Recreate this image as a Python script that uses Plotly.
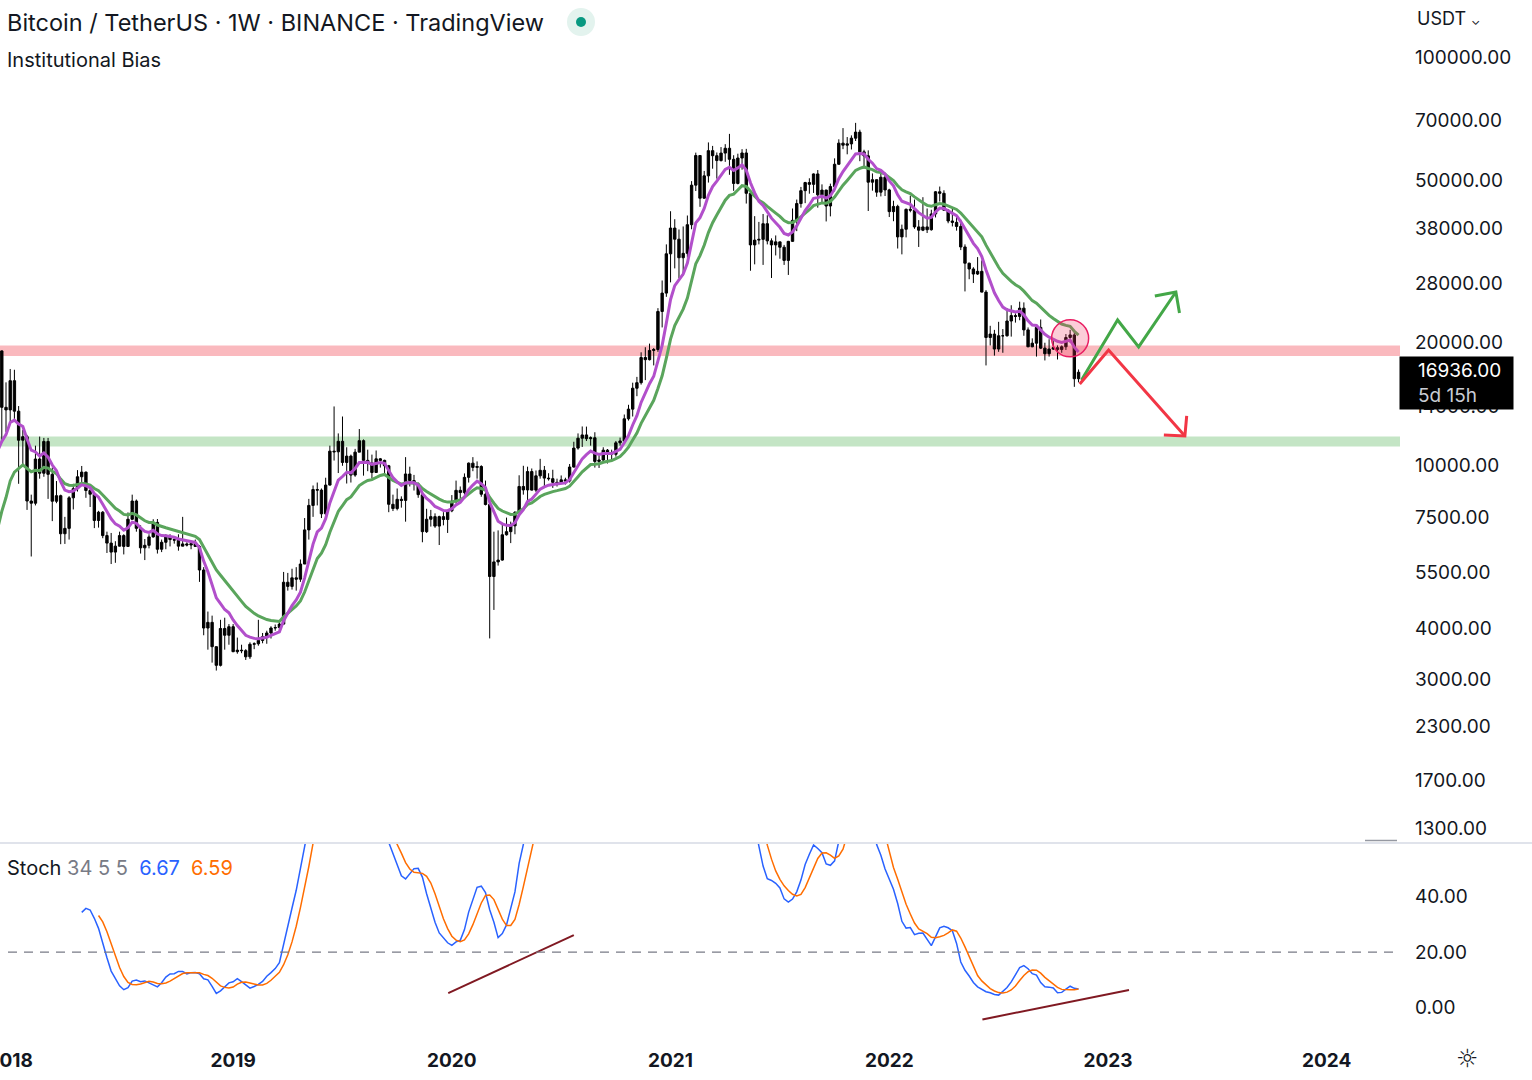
import math
import pandas as pd
import plotly.graph_objects as go

# Weekly BINANCE BTCUSDT candles, one entry per week starting 2017-08-14 (Mondays)
FIRST_WEEK = "2017-08-14"
FIRST_OPEN = 4261

week_high = [
    # 2017
    4485, 4453, 4939, 4788, 4394, 4123, 4406, 4650, 5850, 6118, 6400, 7590, 7776, 8100, 9800, 11300,
    17200, 19798, 19150, 16000,
    # 2018
    17252, 17176, 14000, 12244, 11900, 8500, 11200, 11788, 11700, 11700, 9900, 9177, 8500,
    7500, 8430, 9035, 9760, 9990, 9680, 8880, 8560, 7760, 7750, 6900, 6850, 6540,
    6900, 6800, 7690, 8500, 8270, 7150, 6620, 6800, 7400, 7410, 6600, 6800, 6800,
    6680, 6800, 7500, 6500, 6500, 6600, 6400, 5650, 4400, 4300, 3620, 4200, 4250, 4100,
    # 2019
    4100, 3800, 3650, 3560, 3700, 3700, 4200, 3900, 3950, 4050, 4090, 4150,
    5500, 5470, 5600, 5650, 5900, 7450, 8300, 8950, 9100, 8800, 9350, 11200, 13970,
    12000, 13200, 11100, 10650, 11000, 12300, 11600, 10950, 10650,
    10900, 10450, 10350, 10050, 8500, 8800, 8420, 10500, 9950,
    9500, 9100, 8500, 7850, 7800, 7650, 7550, 7700, 7800,
    # 2020
    8480, 9200, 8900, 9580, 10190, 10500, 10250, 10030, 9200, 8150, 6900, 6950, 7200,
    7470, 7300, 7750, 9480, 10000, 9950, 9850, 9740, 10400, 9990, 9590, 9780, 9300,
    9470, 9350, 10100, 11450, 12000, 12480, 12470, 11800, 12080, 10600, 11100, 10990, 10950,
    11500, 11720, 13350, 14100, 15970, 16500, 18950, 19500, 19900, 19420, 24300, 28400, 34800,
    # 2021
    41950, 40100, 37850, 38500, 40950, 49700, 58350, 57500, 52640, 61800, 60600, 58400, 60200,
    61200, 64850, 57500, 58000, 59500, 59600, 46600, 40800, 39500, 41300, 41000, 36000, 36600,
    35300, 34700, 35500, 42600, 44800, 48100, 49500, 50500, 51900, 52900, 48800, 47350, 49000,
    56500, 62900, 67000, 63700, 64300, 69000, 66400, 59300, 59100, 51900, 50200, 51800, 52100,
    # 2022
    47600, 44500, 43500, 38900, 42600, 45800, 44800, 39900, 45400, 42600, 42300, 47000, 48200,
    47200, 42400, 42900, 40800, 40000, 34800, 31400, 30600, 32400, 31800, 26900, 22000, 21500,
    22500, 21600, 24300, 24700, 23600, 25200, 25100, 21800, 20500, 21900, 22800, 20000, 20400,
    20500, 19700, 19700, 21000, 21500, 21450, 17200,
]

week_low = [
    # 2017
    3850, 3900, 4124, 3850, 2817, 3505, 3760, 4200, 4550, 5100, 5370, 6100, 5325, 5800, 7800, 8500,
    10800, 12900, 11400, 12100,
    # 2018
    12750, 12812, 9035, 10000, 7800, 6000, 8000, 9300, 9400, 8300, 7322, 8100, 6430,
    6440, 6600, 7820, 8650, 8970, 8350, 7930, 7040, 7060, 6650, 6120, 5750, 5790,
    6350, 6070, 6330, 7370, 6900, 6100, 5880, 6280, 6670, 6100, 6150, 6250, 6350,
    6450, 6200, 6400, 6350, 6250, 6330, 5200, 3850, 3550, 3300, 3156, 3230, 3550, 3650,
    # 2019
    3500, 3470, 3480, 3350, 3370, 3560, 3630, 3680, 3670, 3780, 3950, 3930,
    4090, 4950, 4980, 4950, 5200, 5750, 6600, 7500, 8000, 7450, 7500, 8950, 10300,
    9600, 10000, 9050, 9100, 9400, 10800, 9460, 9700, 9320,
    9620, 9900, 9600, 7700, 7750, 7780, 7900, 7300, 8900,
    8700, 8350, 6500, 6850, 7100, 7050, 6400, 7150, 6850,
    # 2020
    7700, 8080, 8230, 8500, 9100, 9700, 9300, 8400, 8000, 3782, 4440, 5700, 5860,
    6750, 6470, 6800, 7690, 8500, 8100, 8700, 8630, 9300, 8900, 9200, 8830, 8900,
    9050, 9000, 9100, 9900, 10950, 11120, 11500, 11200, 9900, 9880, 10250, 10130, 10370,
    10530, 11200, 11400, 12900, 13200, 14800, 15800, 16200, 18100, 17600, 19000, 21800, 25900,
    # 2021
    28100, 30400, 28800, 29200, 32300, 37900, 47000, 43000, 45000, 49300, 53300, 50400, 55500,
    55400, 51500, 47050, 48800, 53000, 43800, 30000, 31100, 34800, 31000, 34800, 28800, 32700,
    32100, 31000, 29300, 35300, 37500, 42800, 43900, 46300, 46500, 42800, 44000, 39600, 40750,
    46900, 54500, 59500, 57800, 59400, 62300, 55600, 53300, 42000, 47100, 45500, 45600, 45700,
    # 2022
    40600, 39650, 34000, 32900, 36200, 41700, 38000, 34300, 37500, 37100, 37600, 40500, 44300,
    42100, 39200, 38500, 37600, 33700, 26700, 28600, 28000, 29300, 26560, 17600, 19700, 18600,
    19000, 18900, 20700, 20700, 22400, 22700, 20800, 19500, 19500, 18500, 19300, 18100, 18500,
    19200, 18200, 18900, 19200, 20000, 15600, 16000,
]

week_close = [
    # 2017
    4086, 4310, 4590, 4330, 3700, 3790, 4390, 4610, 5680, 5980, 6140, 7370, 5950, 8040, 9400, 11200,
    13540, 19100, 13900, 13700,
    # 2018
    16150, 13600, 11550, 11780, 8200, 8100, 10390, 9590, 11470, 9530, 8190, 8450, 6820,
    7030, 8350, 8790, 9400, 9650, 8700, 8520, 7350, 7700, 6750, 6470, 6150, 6360,
    6750, 6350, 7400, 8200, 7030, 6300, 6390, 6700, 7270, 6250, 6500, 6710, 6600,
    6580, 6360, 6440, 6400, 6450, 6350, 5560, 4010, 4140, 3610, 3250, 4000, 3850, 4040,
    # 2019
    3510, 3540, 3530, 3410, 3660, 3670, 3740, 3820, 3900, 4010, 4020, 4100,
    5190, 5070, 5320, 5280, 5750, 6970, 8000, 8750, 8720, 7630, 8970, 10860, 10820,
    11480, 10190, 10560, 9490, 10800, 11520, 10310, 10150, 9630,
    10400, 10310, 10000, 8050, 7860, 8280, 8230, 9550, 9200,
    9030, 8500, 6900, 7400, 7510, 7120, 7510, 7390, 7760,
    # 2020
    8190, 8710, 8600, 9370, 10150, 9910, 9960, 8520, 8040, 5360, 5820, 5880, 6780,
    6900, 7130, 7690, 8900, 8730, 9680, 8720, 9450, 9750, 9330, 9300, 9110, 9080,
    9240, 9180, 9930, 11050, 11680, 11900, 11650, 11710, 10250, 10330, 10920, 10770, 10670,
    11380, 11500, 13030, 13760, 15480, 15970, 18400, 18180, 19150, 19250, 23850, 26450, 33000,
    # 2021
    38150, 35830, 32280, 33090, 38880, 48580, 57410, 45140, 51200, 59000, 57350, 55800, 58200,
    59800, 56200, 49050, 56600, 58240, 46400, 34700, 35650, 35800, 39100, 35500, 34700, 35300,
    34250, 31800, 35400, 39850, 43800, 47100, 49300, 48800, 51750, 46000, 47250, 43200, 48200,
    54650, 61550, 60850, 61300, 63300, 65500, 58600, 57300, 49400, 50100, 46700, 50800, 47300,
    # 2022
    41850, 43100, 36300, 37900, 42400, 42200, 38400, 37700, 38400, 37800, 41300, 46800, 46400,
    42200, 39700, 39400, 38500, 34300, 31300, 30300, 29450, 29900, 26600, 20600, 21000, 19300,
    20800, 20800, 22600, 23300, 23200, 24300, 21500, 19550, 19950, 21800, 19400, 18800, 19300,
    19450, 19250, 19550, 20600, 20900, 16330, 16936,
]

week_open = [FIRST_OPEN] + week_close[:-1]

# Indicator settings shown in the legend
EMA_FAST, EMA_SLOW = 9, 18
STOCH_LEN, STOCH_K, STOCH_D = 34, 5, 5
stoch_legend_k, stoch_legend_d = "6.67", "6.59"
countdown = "5d 15h"

# Drawn zones / annotations (price levels, dates)
resistance_zone = [18560, 19700]
support_zone = [11150, 11790]
bull_arrow_dates = ["2022-11-19", "2023-01-18", "2023-02-22", "2023-04-25", None,
                    "2023-03-21", "2023-04-25", "2023-05-01"]
bull_arrow_prices = [16220, 22730, 19530, 26610, None, 26020, 26610, 23640]
bear_arrow_dates = ["2022-11-16", "2023-01-03", "2023-05-10", None,
                    "2023-04-05", "2023-05-10", "2023-05-13"]
bear_arrow_prices = [15850, 19200, 11830, None, 11890, 11830, 13240]
rejection_date, rejection_price = "2022-10-31", 20500
div_line_1_dates, div_line_1_values = ["2019-12-31", "2020-07-27"], [5.2, 26.1]
div_line_2_dates, div_line_2_values = ["2022-06-07", "2023-02-06"], [-4.3, 6.3]

price_ticks = [1300, 1700, 2300, 3000, 4000, 5500, 7500, 10000, 14000, 20000,
               28000, 38000, 50000, 70000, 100000]
stoch_ticks = [0, 20, 40]
year_tick_dates = ["2018-01-01", "2019-01-07", "2020-01-06", "2021-01-04",
                   "2022-01-03", "2023-01-02", "2024-01-01"]
year_tick_text = ["2018", "2019", "2020", "2021", "2022", "2023", "2024"]


def ema(values, length):
    # TradingView style: seeded with SMA of the first `length` values
    out = [None] * len(values)
    alpha = 2 / (length + 1)
    out[length - 1] = sum(values[:length]) / length
    for i in range(length, len(values)):
        out[i] = alpha * values[i] + (1 - alpha) * out[i - 1]
    return out


weeks = pd.date_range(FIRST_WEEK, periods=len(week_close), freq="7D")
close_s = pd.Series(week_close, dtype=float)
hh = pd.Series(week_high, dtype=float).rolling(STOCH_LEN).max()
ll = pd.Series(week_low, dtype=float).rolling(STOCH_LEN).min()
raw_k = 100 * (close_s - ll) / (hh - ll)
stoch_k = raw_k.rolling(STOCH_K).mean()
stoch_d = stoch_k.rolling(STOCH_D).mean()

ema_fast = ema(week_close, EMA_FAST)
ema_slow = ema(week_close, EMA_SLOW)

FONT = "Inter, Roboto, sans-serif"
TEXT = "#131722"
PLOT_W, PLOT_H = 1400, 1040
MAIN_BOTTOM = 1 - 843 / PLOT_H
NBSP = "\u00a0"

fig = go.Figure()

fig.add_trace(go.Candlestick(
    x=weeks, open=week_open, high=week_high, low=week_low, close=week_close,
    increasing=dict(line=dict(color="black", width=1), fillcolor="black"),
    decreasing=dict(line=dict(color="black", width=1), fillcolor="black"),
    whiskerwidth=0, hoverinfo="skip", xaxis="x", yaxis="y",
))
fig.add_trace(go.Scatter(x=weeks, y=ema_slow, mode="lines",
                         line=dict(color="#5aa55c", width=3), hoverinfo="skip"))
fig.add_trace(go.Scatter(x=weeks, y=ema_fast, mode="lines",
                         line=dict(color="#b24fcb", width=3), hoverinfo="skip"))

# Scenario arrows
fig.add_trace(go.Scatter(x=bull_arrow_dates, y=bull_arrow_prices, mode="lines",
                         line=dict(color="#43a747", width=3), hoverinfo="skip"))
fig.add_trace(go.Scatter(x=bear_arrow_dates, y=bear_arrow_prices, mode="lines",
                         line=dict(color="#f23645", width=3), hoverinfo="skip"))
fig.add_trace(go.Scatter(x=[rejection_date], y=[rejection_price], mode="markers",
                         marker=dict(size=37, color="rgba(242,54,100,0.25)",
                                     line=dict(color="#e91e63", width=1.5)),
                         hoverinfo="skip"))

# Stochastic pane
fig.add_trace(go.Scatter(x=weeks, y=stoch_k, mode="lines", yaxis="y2",
                         line=dict(color="#2962ff", width=1.5), hoverinfo="skip"))
fig.add_trace(go.Scatter(x=weeks, y=stoch_d, mode="lines", yaxis="y2",
                         line=dict(color="#ff6d00", width=1.5), hoverinfo="skip"))
fig.add_trace(go.Scatter(x=div_line_1_dates, y=div_line_1_values, mode="lines", yaxis="y2",
                         line=dict(color="#801922", width=2), hoverinfo="skip"))
fig.add_trace(go.Scatter(x=div_line_2_dates, y=div_line_2_values, mode="lines", yaxis="y2",
                         line=dict(color="#801922", width=2), hoverinfo="skip"))

shapes = [
    dict(type="rect", xref="paper", x0=0, x1=1, yref="y",
         y0=resistance_zone[0], y1=resistance_zone[1],
         fillcolor="rgba(242,54,69,0.35)", line=dict(width=0), layer="below"),
    dict(type="rect", xref="paper", x0=0, x1=1, yref="y",
         y0=support_zone[0], y1=support_zone[1],
         fillcolor="rgba(76,175,80,0.33)", line=dict(width=0), layer="below"),
    dict(type="line", xref="paper", x0=8 / PLOT_W, x1=1, yref="y2", y0=20, y1=20,
         line=dict(color="#787b86", width=1.2, dash="9px,7px")),
    # pane separator
    dict(type="line", xref="paper", x0=0, x1=1532 / PLOT_W, yref="paper",
         y0=MAIN_BOTTOM, y1=MAIN_BOTTOM, line=dict(color="#e0e3eb", width=2)),
    dict(type="line", xref="paper", x0=1365 / PLOT_W, x1=1397 / PLOT_W, yref="paper",
         y0=(PLOT_H - 840.5) / PLOT_H, y1=(PLOT_H - 840.5) / PLOT_H,
         line=dict(color="#9598a1", width=1.5)),
    # live status dot next to the title
    dict(type="circle", xref="paper", yref="paper",
         x0=567 / PLOT_W, x1=595 / PLOT_W, y0=1 - 36 / PLOT_H, y1=1 - 8 / PLOT_H,
         fillcolor="#e3f3ee", line=dict(width=0)),
    dict(type="circle", xref="paper", yref="paper",
         x0=576 / PLOT_W, x1=586 / PLOT_W, y0=1 - 27 / PLOT_H, y1=1 - 17 / PLOT_H,
         fillcolor="#089981", line=dict(width=0)),
]

annotations = [
    dict(text="Bitcoin / TetherUS · 1W · BINANCE · TradingView", xref="paper", yref="paper",
         x=5 / PLOT_W, y=1 - 22 / PLOT_H, xanchor="left", yanchor="middle", showarrow=False,
         font=dict(family=FONT, size=23.5, color=TEXT)),
    dict(text="Institutional Bias", xref="paper", yref="paper",
         x=5 / PLOT_W, y=1 - 60 / PLOT_H, xanchor="left", yanchor="middle", showarrow=False,
         font=dict(family=FONT, size=20, color=TEXT)),
    dict(text=(f"Stoch <span style='color:#787b86'>{STOCH_LEN} {STOCH_K} {STOCH_D}</span>  "
               f"<span style='color:#2962ff'>{stoch_legend_k}</span>  "
               f"<span style='color:#ff6d00'>{stoch_legend_d}</span>"),
         xref="paper", yref="paper", x=5 / PLOT_W, y=(PLOT_H - 868) / PLOT_H,
         xanchor="left", yanchor="middle", showarrow=False,
         font=dict(family=FONT, size=20, color=TEXT)),
    dict(text="USDT <span style='font-size:12px'>⌄</span>", xref="paper", yref="paper",
         x=1415 / PLOT_W, y=1 - 18 / PLOT_H, xanchor="left", yanchor="middle", showarrow=False,
         font=dict(family=FONT, size=18, color=TEXT)),
    dict(text=(f"{NBSP * 3}{week_close[-1]:.2f}<br>"
               f"{NBSP * 3}<span style='color:#c9ccd4'>{countdown}</span>"),
         xref="paper", yref="y", x=1399 / PLOT_W, y=math.log10(week_close[-1]),
         xanchor="left", yanchor="middle", yshift=-11, showarrow=False, align="left",
         width=109, bgcolor="black", borderpad=2,
         font=dict(family=FONT, size=19, color="white")),
    dict(text="☼", xref="paper", yref="paper", x=1467 / PLOT_W, y=(PLOT_H - 1058) / PLOT_H,
         xanchor="center", yanchor="middle", showarrow=False,
         font=dict(family="DejaVu Sans", size=25, color=TEXT)),
]

axis_font = dict(family=FONT, size=19, color=TEXT)
fig.update_layout(
    width=1532, height=1080,
    margin=dict(l=0, r=132, t=0, b=40, autoexpand=False),
    paper_bgcolor="white", plot_bgcolor="white",
    showlegend=False,
    boxgap=0.2,
    shapes=shapes,
    annotations=annotations,
    xaxis=dict(
        type="date", range=["2017-12-15", "2024-05-02"], domain=[0, 1], anchor="y2",
        showgrid=False, zeroline=False, showline=False, ticks="", automargin=False,
        tickvals=year_tick_dates, ticktext=[f"<b>{t}</b>" for t in year_tick_text],
        ticklabelstandoff=7, ticklabeloverflow="allow", tickfont=axis_font,
        rangeslider=dict(visible=False),
    ),
    yaxis=dict(
        type="log", domain=[MAIN_BOTTOM, 1], range=[3.0773, 5.1394], side="right",
        anchor="x", showgrid=False, zeroline=False, showline=False, ticks="",
        automargin=False,
        tickvals=price_ticks, ticktext=[f"{v:.2f}" for v in price_ticks],
        ticklabelstandoff=14, tickfont=axis_font,
    ),
    yaxis2=dict(
        domain=[0, MAIN_BOTTOM], range=[-11.7, 59.3], side="right", anchor="x",
        showgrid=False, zeroline=False, showline=False, ticks="", automargin=False,
        tickvals=stoch_ticks, ticktext=[f"{v:.2f}" for v in stoch_ticks],
        ticklabelstandoff=14, tickfont=axis_font,
    ),
)

fig.write_html("out.html", config={"displayModeBar": False},
               post_script="document.body.style.margin = '0px';")
